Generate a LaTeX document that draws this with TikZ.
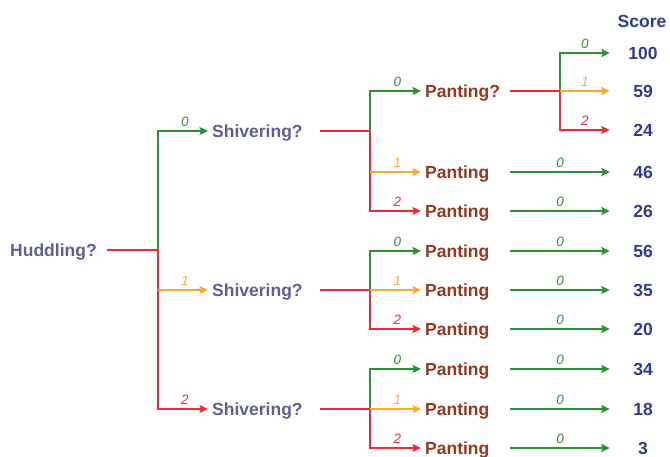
\documentclass[tikz,border=0pt]{standalone}
\usepackage{fontspec}
\setmainfont{Liberation Sans}
\usetikzlibrary{arrows.meta}
\definecolor{cgreen}{RGB}{40,145,50}
\definecolor{corange}{RGB}{248,170,50}
\definecolor{cred}{RGB}{232,45,55}
\definecolor{cpurple}{RGB}{95,95,150}
\definecolor{cbrown}{RGB}{150,55,30}
\definecolor{cblue}{RGB}{45,60,145}
\begin{document}
\begin{tikzpicture}[x=1pt,y=-1pt,
  qbase/.style={anchor=west, inner sep=0pt, text height=12.5pt, text depth=0pt, align=left,
    font=\bfseries\fontsize{17.5}{20}\selectfont},
  hudq/.style={qbase, text width=97pt, text=cpurple},
  shivq/.style={qbase, text width=108pt, text=cpurple},
  pantq/.style={qbase, text width=85pt, text=cbrown},
  scorev/.style={anchor=center, inner sep=0pt, minimum width=66pt, text height=12.5pt, text depth=0pt,
    font=\bfseries\fontsize{17.5}{20}\selectfont, text=cblue},
  lbl/.style={above, inner sep=4pt, text height=9.6pt, text depth=0pt,
    font=\itshape\fontsize{13.5}{16}\selectfont},
  wire/.style={line width=1.6pt},
  arr/.style={wire, -{Stealth[length=8.5pt,width=8pt,inset=1.5pt]}},
  into/.style={arr, shorten >=4pt}
]
\useasboundingbox (0,0) rectangle (670,457);

% question nodes
\node[hudq] (hud) at (10,250) {Huddling?};
\node[shivq] (s0) at (212,131) {Shivering?};
\node[shivq] (s1) at (212,290) {Shivering?};
\node[shivq] (s2) at (212,409) {Shivering?};
\node[pantq] (p00) at (425,91) {Panting?};
\node[pantq] (p01) at (425,172) {Panting};
\node[pantq] (p02) at (425,211) {Panting};
\node[pantq] (p10) at (425,251) {Panting};
\node[pantq] (p11) at (425,290) {Panting};
\node[pantq] (p12) at (425,329) {Panting};
\node[pantq] (p20) at (425,369) {Panting};
\node[pantq] (p21) at (425,409) {Panting};
\node[pantq] (p22) at (425,448) {Panting};

% scores
\node[scorev] (hdr) at (642,21) {Score};
\node[scorev] (r1) at (643,53) {100};
\node[scorev] (r2) at (643,91) {59};
\node[scorev] (r3) at (643,130) {24};
\node[scorev] (r4) at (643,172) {46};
\node[scorev] (r5) at (643,211) {26};
\node[scorev] (r6) at (643,251) {56};
\node[scorev] (r7) at (643,290) {35};
\node[scorev] (r8) at (643,329) {20};
\node[scorev] (r9) at (643,369) {34};
\node[scorev] (r10) at (643,409) {18};
\node[scorev] (r11) at (643,448) {3};

% junctions
\coordinate (j0) at (158,250);
\coordinate (j1) at (370,131);
\coordinate (j2) at (370,290);
\coordinate (j3) at (370,409);
\coordinate (j4) at (560,91);

% Huddling
\draw[wire,cred] (hud.east) -- (j0);
\draw[into,cgreen] (j0) |- node[lbl,pos=.75,text=cgreen]{0} (s0.west);
\draw[into,cred] (j0) |- node[lbl,pos=.75,text=cred]{2} (s2.west);
\draw[into,corange] (j0 |- s1.west) -- node[lbl,text=corange]{1} (s1.west);

% Shivering 0
\draw[wire,cred] (s0.east) -- (j1);
\draw[into,cgreen] (j1) |- node[lbl,pos=.75,text=cgreen]{0} (p00.west);
\draw[into,cred] (j1) |- node[lbl,pos=.75,text=cred]{2} (p02.west);
\draw[into,corange] (j1 |- p01.west) -- node[lbl,text=corange]{1} (p01.west);

% Shivering 1
\draw[wire,cred] (s1.east) -- (j2);
\draw[into,cgreen] (j2) |- node[lbl,pos=.75,text=cgreen]{0} (p10.west);
\draw[into,cred] (j2) |- node[lbl,pos=.75,text=cred]{2} (p12.west);
\draw[into,corange] (j2) -- node[lbl,text=corange]{1} (p11.west);

% Shivering 2
\draw[wire,cred] (s2.east) -- (j3);
\draw[into,cgreen] (j3) |- node[lbl,pos=.75,text=cgreen]{0} (p20.west);
\draw[into,cred] (j3) |- node[lbl,pos=.75,text=cred]{2} (p22.west);
\draw[into,corange] (j3) -- node[lbl,text=corange]{1} (p21.west);

% Panting?
\draw[wire,cred] (p00.east) -- (j4);
\draw[arr,cgreen] (j4) |- node[lbl,pos=.75,text=cgreen]{0} (r1.west);
\draw[arr,cred] (j4) |- node[lbl,pos=.75,text=cred]{2} (r3.west);
\draw[arr,corange] (j4) -- node[lbl,text=corange]{1} (r2.west);

% Panting -> score
\foreach \p/\r in {p01/r4,p02/r5,p10/r6,p11/r7,p12/r8,p20/r9,p21/r10,p22/r11}
  \draw[arr,cgreen] (\p.east) -- node[lbl,text=cgreen]{0} (\r.west);
\end{tikzpicture}
\end{document}
